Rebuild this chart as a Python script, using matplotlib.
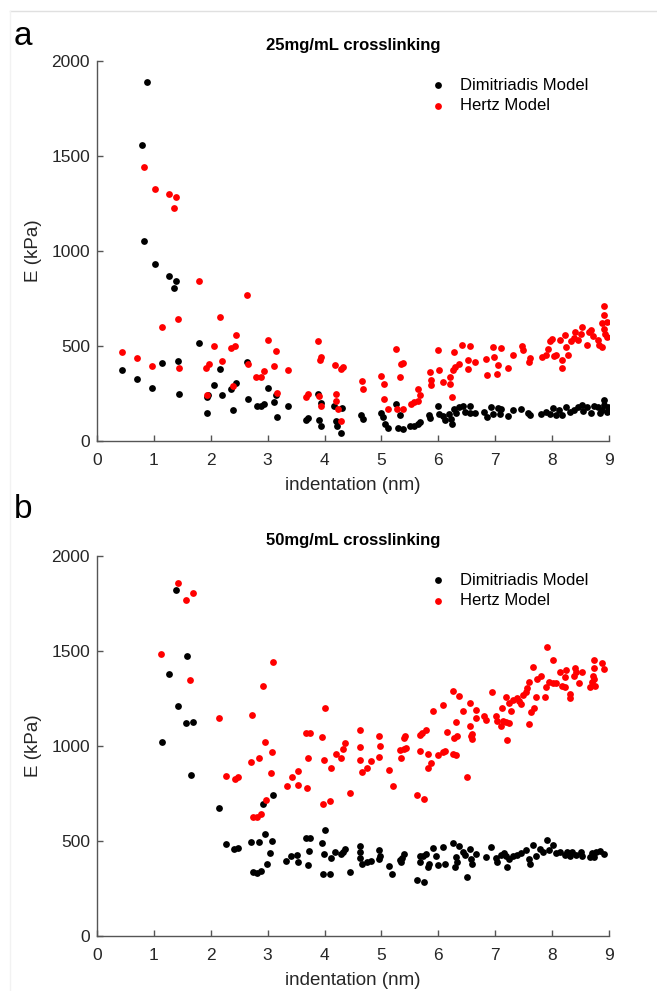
import matplotlib
matplotlib.use('Agg')
import matplotlib.pyplot as plt
from matplotlib.lines import Line2D

plt.rcParams['font.family'] = ['Liberation Sans', 'DejaVu Sans']

# panel a: 25 mg/mL crosslinking
a_dim_x = [0.44, 0.71, 0.79, 0.82, 0.88, 0.96, 1.02, 1.14, 1.26, 1.35, 1.39, 1.42, 1.45, 1.79,
           1.94, 1.95, 1.94, 2.06, 2.16, 2.19, 2.36, 2.39, 2.44, 2.64, 2.65, 2.81, 2.89, 2.94, 3.01,
           3.11, 3.15, 3.16, 3.35, 3.68, 3.71, 3.88, 3.94, 3.91, 3.94, 4.16, 4.31, 4.2, 4.22, 4.29,
           4.64, 4.68, 4.99, 5.03, 5.06, 5.12, 5.25, 5.32, 5.29, 5.38, 5.51, 5.58, 5.64, 5.68, 5.84,
           5.86, 6.0, 6.02, 6.08, 6.11, 6.19, 6.22, 6.24, 6.28, 6.31, 6.37, 6.43, 6.46, 6.55, 6.56,
           6.65, 6.81, 6.86, 6.93, 6.96, 7.05, 7.11, 7.08, 7.22, 7.31, 7.45, 7.58, 7.61, 7.81, 7.9,
           7.96, 8.02, 8.06, 8.12, 8.18, 8.25, 8.32, 8.39, 8.46, 8.52, 8.55, 8.62, 8.68, 8.74, 8.8,
           8.84, 8.88, 8.91, 8.92, 8.99, 8.96]
a_dim_y = [372, 326, 1559, 1051, 1891, 279, 930, 409, 870, 807, 842, 419, 246, 514,
           230, 240, 147, 296, 377, 242, 275, 161, 307, 417, 223, 182, 182, 193, 279,
           205, 240, 128, 182, 112, 119, 247, 202, 109, 81, 184, 174, 107, 79, 44,
           137, 116, 146, 128, 89, 68, 196, 135, 68, 65, 77, 81, 91, 100, 137,
           121, 184, 144, 132, 112, 144, 118, 91, 168, 147, 179, 186, 154, 182, 147,
           147, 153, 126, 179, 144, 174, 170, 140, 132, 161, 170, 149, 135, 144, 153,
           144, 175, 139, 161, 135, 179, 153, 165, 179, 188, 156, 179, 147, 182, 179,
           149, 161, 217, 191, 179, 153]
a_hertz_x = [0.44, 0.71, 0.82, 0.96, 1.02, 1.14, 1.26, 1.35, 1.39, 1.42, 1.45, 1.79, 1.92, 1.94,
             1.97, 2.06, 2.16, 2.2, 2.36, 2.39, 2.42, 2.44, 2.64, 2.65, 2.79, 2.88, 2.93, 3.01,
             3.15, 3.11, 3.35, 3.16, 3.88, 3.94, 3.92, 4.18, 4.29, 4.33, 3.68, 3.71, 3.91, 3.94,
             4.2, 4.2, 4.24, 4.29, 4.65, 4.68, 5.0, 5.04, 5.05, 5.12, 5.25, 5.35, 5.38, 5.32, 5.28,
             5.38, 5.52, 5.58, 5.64, 5.68, 5.64, 5.85, 5.87, 5.87, 6.0, 6.02, 6.09, 6.21, 6.24, 6.2,
             6.25, 6.28, 6.29, 6.37, 6.42, 6.52, 6.53, 6.56, 6.65, 6.84, 6.85, 6.96, 6.98, 7.03,
             7.05, 7.11, 7.22, 7.31, 7.47, 7.49, 7.59, 7.61, 7.82, 7.9, 7.93, 7.96, 8.0, 8.04,
             8.06, 8.14, 8.18, 8.18, 8.22, 8.25, 8.28, 8.33, 8.38, 8.41, 8.46, 8.51, 8.52, 8.62,
             8.65, 8.69, 8.72, 8.8, 8.82, 8.87, 8.87, 8.91, 8.91, 8.91, 8.93, 8.97, 8.97]
a_hertz_y = [468, 439, 1444, 396, 1328, 598, 1300, 1226, 1282, 640, 382, 840, 382, 244,
             405, 502, 651, 419, 491, 288, 502, 558, 768, 407, 339, 339, 367, 531,
             474, 396, 372, 251, 524, 442, 428, 400, 381, 391, 232, 249, 237, 182,
             246, 210, 170, 103, 317, 274, 344, 302, 221, 170, 484, 407, 412, 335, 170,
             168, 195, 205, 209, 242, 274, 361, 319, 293, 477, 372, 309, 302, 232, 337,
             372, 468, 389, 403, 503, 381, 424, 498, 414, 431, 346, 495, 442, 351,
             398, 491, 384, 454, 500, 481, 416, 439, 442, 454, 482, 524, 538, 446,
             453, 533, 424, 386, 556, 495, 454, 526, 542, 574, 530, 565, 600, 503,
             574, 586, 553, 533, 503, 495, 621, 588, 661, 709, 565, 626, 547]

# panel b: 50 mg/mL crosslinking
b_dim_x = [1.14, 1.27, 1.38, 1.43, 1.57, 1.58, 1.65, 1.68, 2.14, 2.26, 2.41, 2.48, 2.71, 2.74,
           2.81, 2.84, 2.89, 2.92, 2.96, 2.98, 3.04, 3.09, 3.08, 3.33, 3.41, 3.52, 3.54, 3.71,
           3.68, 3.75, 3.72, 3.95, 4.01, 3.99, 4.11, 3.97, 4.09, 4.19, 4.29, 4.33, 4.36, 4.45,
           4.62, 4.62, 4.62, 4.66, 4.75, 4.82, 4.95, 4.97, 4.96, 5.14, 5.19, 5.33, 5.37, 5.4,
           5.34, 5.62, 5.74, 5.67, 5.73, 5.78, 5.67, 5.81, 5.84, 5.91, 6.0, 5.96, 6.08, 6.11,
           6.26, 6.36, 6.31, 6.3, 6.32, 6.43, 6.46, 6.55, 6.57, 6.6, 6.66, 6.5, 6.84, 6.93,
           7.01, 7.04, 7.1, 7.16, 7.19, 7.21, 7.25, 7.32, 7.38, 7.45, 7.54, 7.6, 7.62, 7.66,
           7.71, 7.78, 7.84, 7.91, 7.94, 8.02, 8.06, 8.13, 8.22, 8.26, 8.31, 8.35, 8.42, 8.5,
           8.52, 8.66, 8.7, 8.74, 8.77, 8.84, 8.92]
b_dim_y = [1019, 1377, 1822, 1209, 1121, 1472, 845, 1128, 672, 482, 460, 465, 495, 335,
           333, 496, 340, 693, 535, 377, 437, 744, 502, 395, 419, 426, 391, 374,
           517, 514, 449, 491, 560, 431, 409, 326, 326, 440, 431, 444, 458, 335,
           474, 444, 409, 379, 388, 396, 451, 419, 405, 367, 326, 400, 412, 431,
           391, 296, 282, 419, 419, 431, 391, 361, 379, 465, 374, 423, 467, 379,
           488, 475, 414, 361, 388, 440, 426, 458, 405, 379, 431, 309, 414, 467,
           409, 388, 426, 437, 419, 361, 405, 419, 426, 437, 454, 405, 379, 479,
           419, 458, 440, 507, 454, 479, 437, 440, 426, 444, 419, 440, 426, 444,
           419, 414, 437, 414, 444, 449, 431]
b_hertz_x = [1.12, 1.43, 1.57, 1.64, 1.68, 2.14, 2.26, 2.42, 2.47, 2.71, 2.72, 2.74, 2.82, 2.84,
             2.89, 2.91, 2.95, 2.97, 3.09, 3.08, 3.05, 3.34, 3.43, 3.53, 3.54, 3.68, 3.75, 3.71,
             3.7, 3.95, 4.01, 3.99, 4.11, 3.97, 4.1, 4.2, 4.29, 4.33, 4.36, 4.45, 4.62, 4.62,
             4.62, 4.66, 4.74, 4.82, 4.95, 4.98, 4.96, 5.14, 5.2, 5.33, 5.34, 5.39, 5.41, 5.4,
             5.43, 5.67, 5.72, 5.78, 5.67, 5.81, 5.81, 5.87, 5.9, 5.99, 5.62, 5.74, 6.08, 6.09,
             6.12, 6.25, 6.31, 6.16, 6.26, 6.37, 6.31, 6.28, 6.32, 6.44, 6.56, 6.57, 6.59, 6.6,
             6.5, 6.55, 6.67, 6.66, 6.81, 6.83, 6.94, 7.01, 7.03, 7.1, 7.13, 7.12, 7.19, 7.19,
             7.25, 7.21, 7.27, 7.24, 7.32, 7.38, 7.41, 7.45, 7.49, 7.54, 7.56, 7.6, 7.66, 7.6,
             7.63, 7.68, 7.71, 7.73, 7.81, 7.87, 7.89, 7.91, 7.95, 8.02, 8.02, 8.06, 8.13, 8.18,
             8.22, 8.24, 8.23, 8.32, 8.32, 8.38, 8.41, 8.42, 8.48, 8.52, 8.66, 8.7, 8.72, 8.73,
             8.74, 8.76, 8.73, 8.87, 8.92]
b_hertz_y = [1484, 1858, 1767, 1349, 1805, 1149, 842, 824, 837, 917, 1165, 626, 626, 935,
             644, 1314, 1023, 716, 1440, 970, 856, 788, 835, 868, 796, 1066, 1066, 935,
             777, 1047, 1200, 926, 886, 695, 709, 958, 935, 984, 1014, 752, 1082, 996,
             924, 861, 886, 923, 1054, 998, 944, 875, 788, 979, 938, 1040, 1051, 984,
             988, 1056, 1066, 1086, 975, 959, 882, 910, 1186, 954, 742, 719, 1215, 966,
             975, 956, 952, 1072, 1291, 1265, 1124, 1040, 1054, 1184, 1107, 1054, 1037, 1063,
             837, 1224, 1191, 1149, 1159, 1137, 1284, 1159, 1131, 1107, 1133, 1198, 1256, 1124,
             1121, 1033, 1186, 1226, 1242, 1251, 1238, 1221, 1268, 1282, 1305, 1335, 1417, 1114,
             1177, 1198, 1256, 1352, 1366, 1256, 1308, 1521, 1335, 1454, 1331, 1331, 1391, 1314,
             1361, 1398, 1308, 1273, 1251, 1370, 1408, 1387, 1331, 1387, 1312, 1335, 1370, 1408,
             1454, 1314, 1352, 1437, 1405]

W, H = 657, 991
AX_COLOR = '#262626'


def style_axes(ax, title):
    ax.set_xlim(0, 9)
    ax.set_ylim(0, 2000)
    ax.set_xticks(range(0, 10))
    ax.set_yticks([0, 500, 1000, 1500, 2000])
    for side in ('top', 'right'):
        ax.spines[side].set_visible(False)
    for side in ('left', 'bottom'):
        ax.spines[side].set_color('#555555')
        ax.spines[side].set_linewidth(1.0)
    ax.tick_params(direction='in', length=4, width=1.0, colors='#555555',
                   labelcolor=AX_COLOR, labelsize=12.5)
    ax.tick_params(axis='x', pad=9)
    ax.tick_params(axis='y', pad=5)
    ax.set_xlabel('indentation (nm)', fontsize=13.5, color=AX_COLOR, labelpad=6)
    ax.set_ylabel('E (kPa)', fontsize=13.5, color=AX_COLOR, labelpad=7)
    ax.set_title(title, fontsize=12, fontweight='bold', pad=8)
    ax.legend(loc='upper left', bbox_to_anchor=(0.63, 0.987), frameon=False,
              fontsize=12, handlelength=0.8, handletextpad=0.9, labelspacing=0.35,
              borderaxespad=0.3)


fig = plt.figure(figsize=(W / 100, H / 100), dpi=100)

ax_a = fig.add_axes([97 / W, 1 - 441 / H, 512 / W, 380 / H])
ax_a.scatter(a_dim_x, a_dim_y, s=24, c='black', linewidths=0, label='Dimitriadis Model')
ax_a.scatter(a_hertz_x, a_hertz_y, s=24, c='#ff0000', linewidths=0, label='Hertz Model')
style_axes(ax_a, '25mg/mL crosslinking')

ax_b = fig.add_axes([97 / W, 1 - 936 / H, 512 / W, 380 / H])
ax_b.scatter(b_dim_x, b_dim_y, s=24, c='black', linewidths=0, label='Dimitriadis Model')
ax_b.scatter(b_hertz_x, b_hertz_y, s=24, c='#ff0000', linewidths=0, label='Hertz Model')
style_axes(ax_b, '50mg/mL crosslinking')

fig.text(14 / W, 1 - 45 / H, 'a', fontsize=24, ha='left', va='baseline')
fig.text(14 / W, 1 - 518 / H, 'b', fontsize=24, ha='left', va='baseline')

# light frame lines at the top-left edge of the page
fig.add_artist(Line2D([10 / W, 1], [1 - 11 / H, 1 - 11 / H], color='#e0e0e0', lw=1))
fig.add_artist(Line2D([10 / W, 10 / W], [0, 1 - 11 / H], color='#f2f2f2', lw=1))

fig.savefig('out.png', dpi=100)
